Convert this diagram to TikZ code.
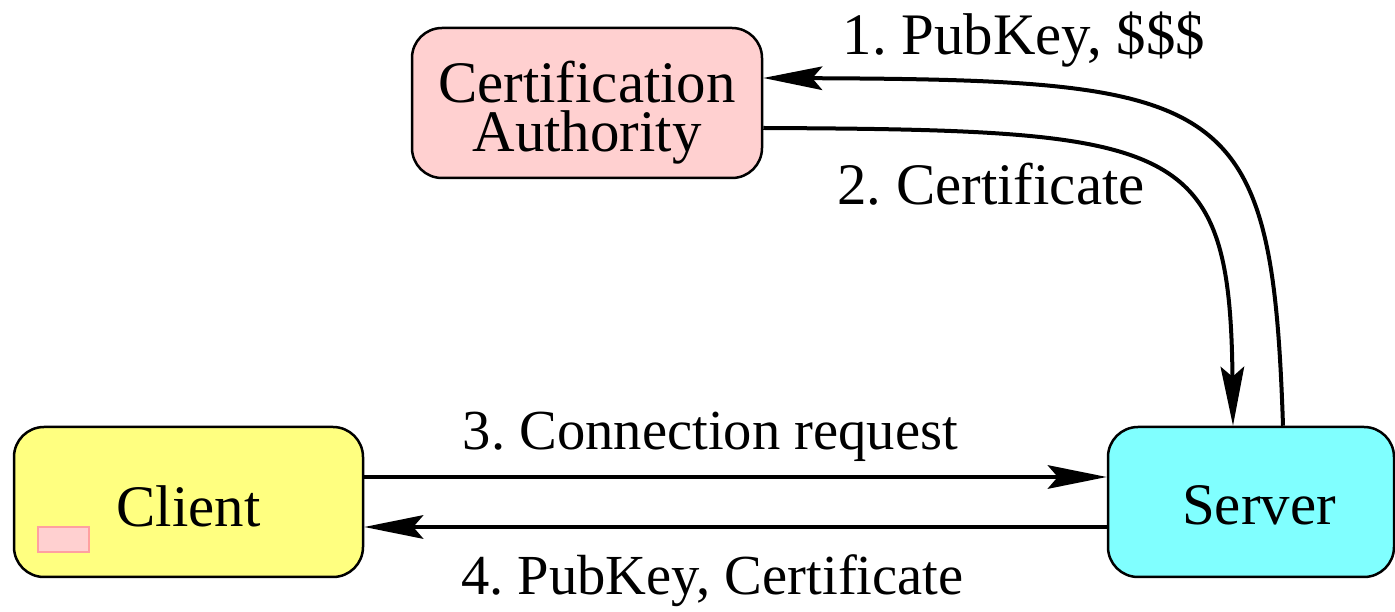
\documentclass[tikz,border=0pt]{standalone}
\usepackage{fontspec}
\setmainfont{Liberation Serif}
\newfontfamily\labelfont{Liberation Serif}
\usetikzlibrary{arrows.meta}
\frenchspacing

\definecolor{capink}{HTML}{FFD0D0}
\definecolor{clientyellow}{HTML}{FFFF80}
\definecolor{servercyan}{HTML}{80FFFF}
\definecolor{flagedge}{HTML}{FFA0A0}

\tikzset{
  party/.style={draw=black, line width=0.05cm, rounded corners=0.6cm,
    minimum height=3cm, inner sep=0pt},
  lbl/.style={anchor=base, inner sep=0pt,
    font=\labelfont\frenchspacing\fontsize{33.5pt}{27.9pt}\selectfont},
  lblsmall/.style={lbl,
    font=\labelfont\frenchspacing\fontsize{32.2pt}{27.9pt}\selectfont},
  msg/.style={line width=0.08cm,
    -{Stealth[length=1.18cm, width=0.47cm, inset=0.2cm]}},
  flag/.style={draw=flagedge, fill=capink, line width=0.03cm,
    minimum width=1.02cm, minimum height=0.5cm, inner sep=0pt}
}

\begin{document}
\begin{tikzpicture}
\useasboundingbox (0,0) rectangle (27.9,12.24);

% the three parties
\node[party, fill=capink, minimum width=7cm] (ca) at (11.74,10.18) {};
\node[party, fill=clientyellow, minimum width=6.98cm] (client) at (3.77,2.2) {};
\node[party, fill=servercyan, minimum width=5.72cm] (server) at (25.02,2.2) {};

% box captions (base anchor sits on the last line)
\node[lbl, align=center] (catext) at (11.74,9.2) {Certification\\Authority};
\node[lbl] (clienttext) at (3.77,1.70) {Client};
\node[lbl] (servertext) at (25.18,1.74) {Server};

% small marker inside the client
\node[flag] (clientflag) at (1.27,1.45) {};

% message flow
\draw[msg] ([xshift=0.64cm]server.north)
  .. controls (25.44,10.34) and (24.6,10.64) .. ([yshift=0.5cm]ca.east);
\draw[msg] ([yshift=-0.5cm]ca.east)
  .. controls (23.6,9.64) and (24.6,9.44) .. ([xshift=-0.36cm]server.north);
\draw[msg] ([yshift=0.5cm]client.east) -- ([yshift=0.5cm]server.west);
\draw[msg] ([yshift=-0.5cm]server.west) -- ([yshift=-0.5cm]client.east);

% message labels
\node[lbl] (m1) at (20.48,11.14) {1. PubKey, \$\$\$};
\node[lbl] (m2) at (19.82,8.14) {2. Certificate};
\node[lblsmall] (m3) at (14.21,3.24) {3. Connection request};
\node[lblsmall] (m4) at (14.25,0.34) {4. PubKey, Certificate};
\end{tikzpicture}
\end{document}
